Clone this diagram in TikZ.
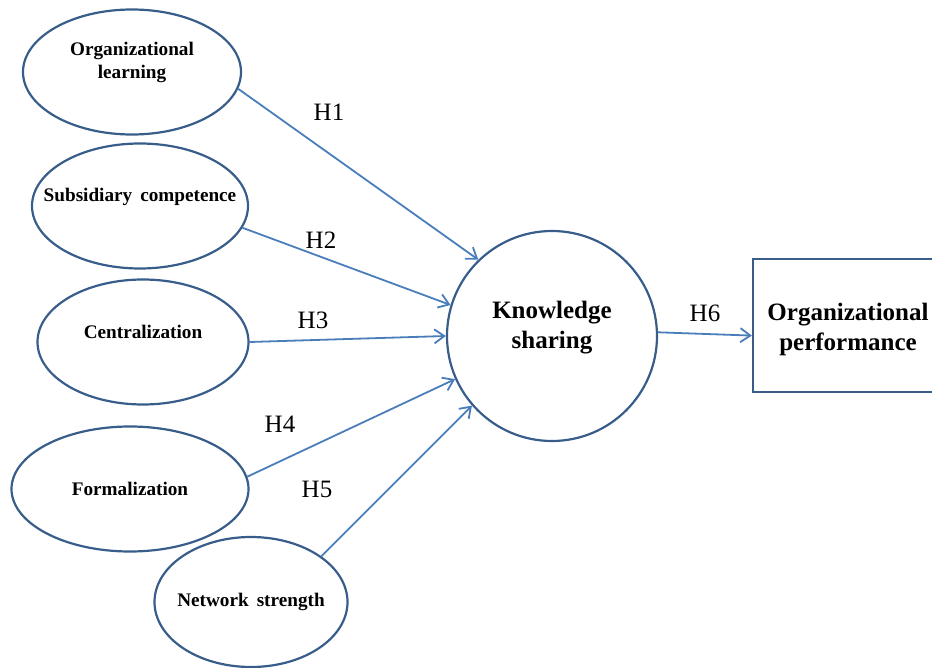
\documentclass[tikz,border=0pt]{standalone}
\usepackage{fontspec}
\setmainfont{Liberation Serif}
\usetikzlibrary{shapes.geometric, arrows.meta}

\definecolor{shapeblue}{HTML}{385D8A}
\definecolor{arrowblue}{HTML}{4A7EBB}

\begin{document}
\begin{tikzpicture}[
    x=0.5pt, y=-0.5pt, % one unit per pixel of the figure
    factor/.style={ellipse, draw=shapeblue, line width=1.1pt, inner sep=0pt, minimum height=62.5pt},
    factortext/.style={font=\fontsize{9.6}{11.5}\selectfont\bfseries, align=center},
    bigtext/.style={font=\fontsize{12.5}{15}\selectfont\bfseries, align=center},
    hyp/.style={draw=arrowblue, line width=0.9pt, -{Straight Barb[length=5pt, width=7pt]}},
    hlabel/.style={font=\fontsize{12.5}{15}\selectfont}
]
    \useasboundingbox (0,0) rectangle (932,668);

    % Place the antecedents
    \node (ol) [factor, minimum width=109pt, label={[factortext, yshift=5pt]center:Organizational\\learning}] at (132,72) {};
    \node (sc) [factor, minimum width=108pt, label={[factortext, yshift=4.5pt]center:Subsidiary\, competence}] at (140,206) {};
    \node (cz) [factor, minimum width=105.5pt, label={[factortext, yshift=5pt]center:Centralization}] at (143,342) {};
    \node (fm) [factor, minimum width=118.5pt, label={[factortext]center:Formalization}] at (130,489) {};
    \node (ns) [factor, minimum width=96.5pt, minimum height=65pt, label={[factortext]center:Network\, strength}] at (251,602) {};

    % Mediator and outcome
    \node (ks) [circle, draw=shapeblue, line width=1.1pt, inner sep=0pt, minimum size=105pt,
                label={[bigtext, yshift=4pt]center:Knowledge\\sharing}] at (552,336) {};
    \node (op) [rectangle, draw=shapeblue, line width=1.1pt, inner sep=0pt, minimum width=95pt,
                minimum height=66.5pt, bigtext] at (848,325.5) {};
    \node (optext) [bigtext] at (848,329) {Organizational\\performance};

    % Hypotheses
    \draw [hyp] (ol.-9.5) -- (ks.134);
    \draw [hyp] (sc.-12.7) -- (ks.163.5);
    \draw [hyp] (cz.-0.5) -- (ks.180);
    \draw [hyp] (fm.6.9) -- (ks.204);
    \draw [hyp] (ns.33.7) -- (ks.221);
    \draw [hyp] (ks.2) -- (op.186);

    \node (h1) [hlabel] at (329,112) {H1};
    \node (h2) [hlabel] at (321,240) {H2};
    \node (h3) [hlabel] at (313,320) {H3};
    \node (h4) [hlabel] at (280,424) {H4};
    \node (h5) [hlabel] at (317,489) {H5};
    \node (h6) [hlabel] at (705,313) {H6};
\end{tikzpicture}
\end{document}
